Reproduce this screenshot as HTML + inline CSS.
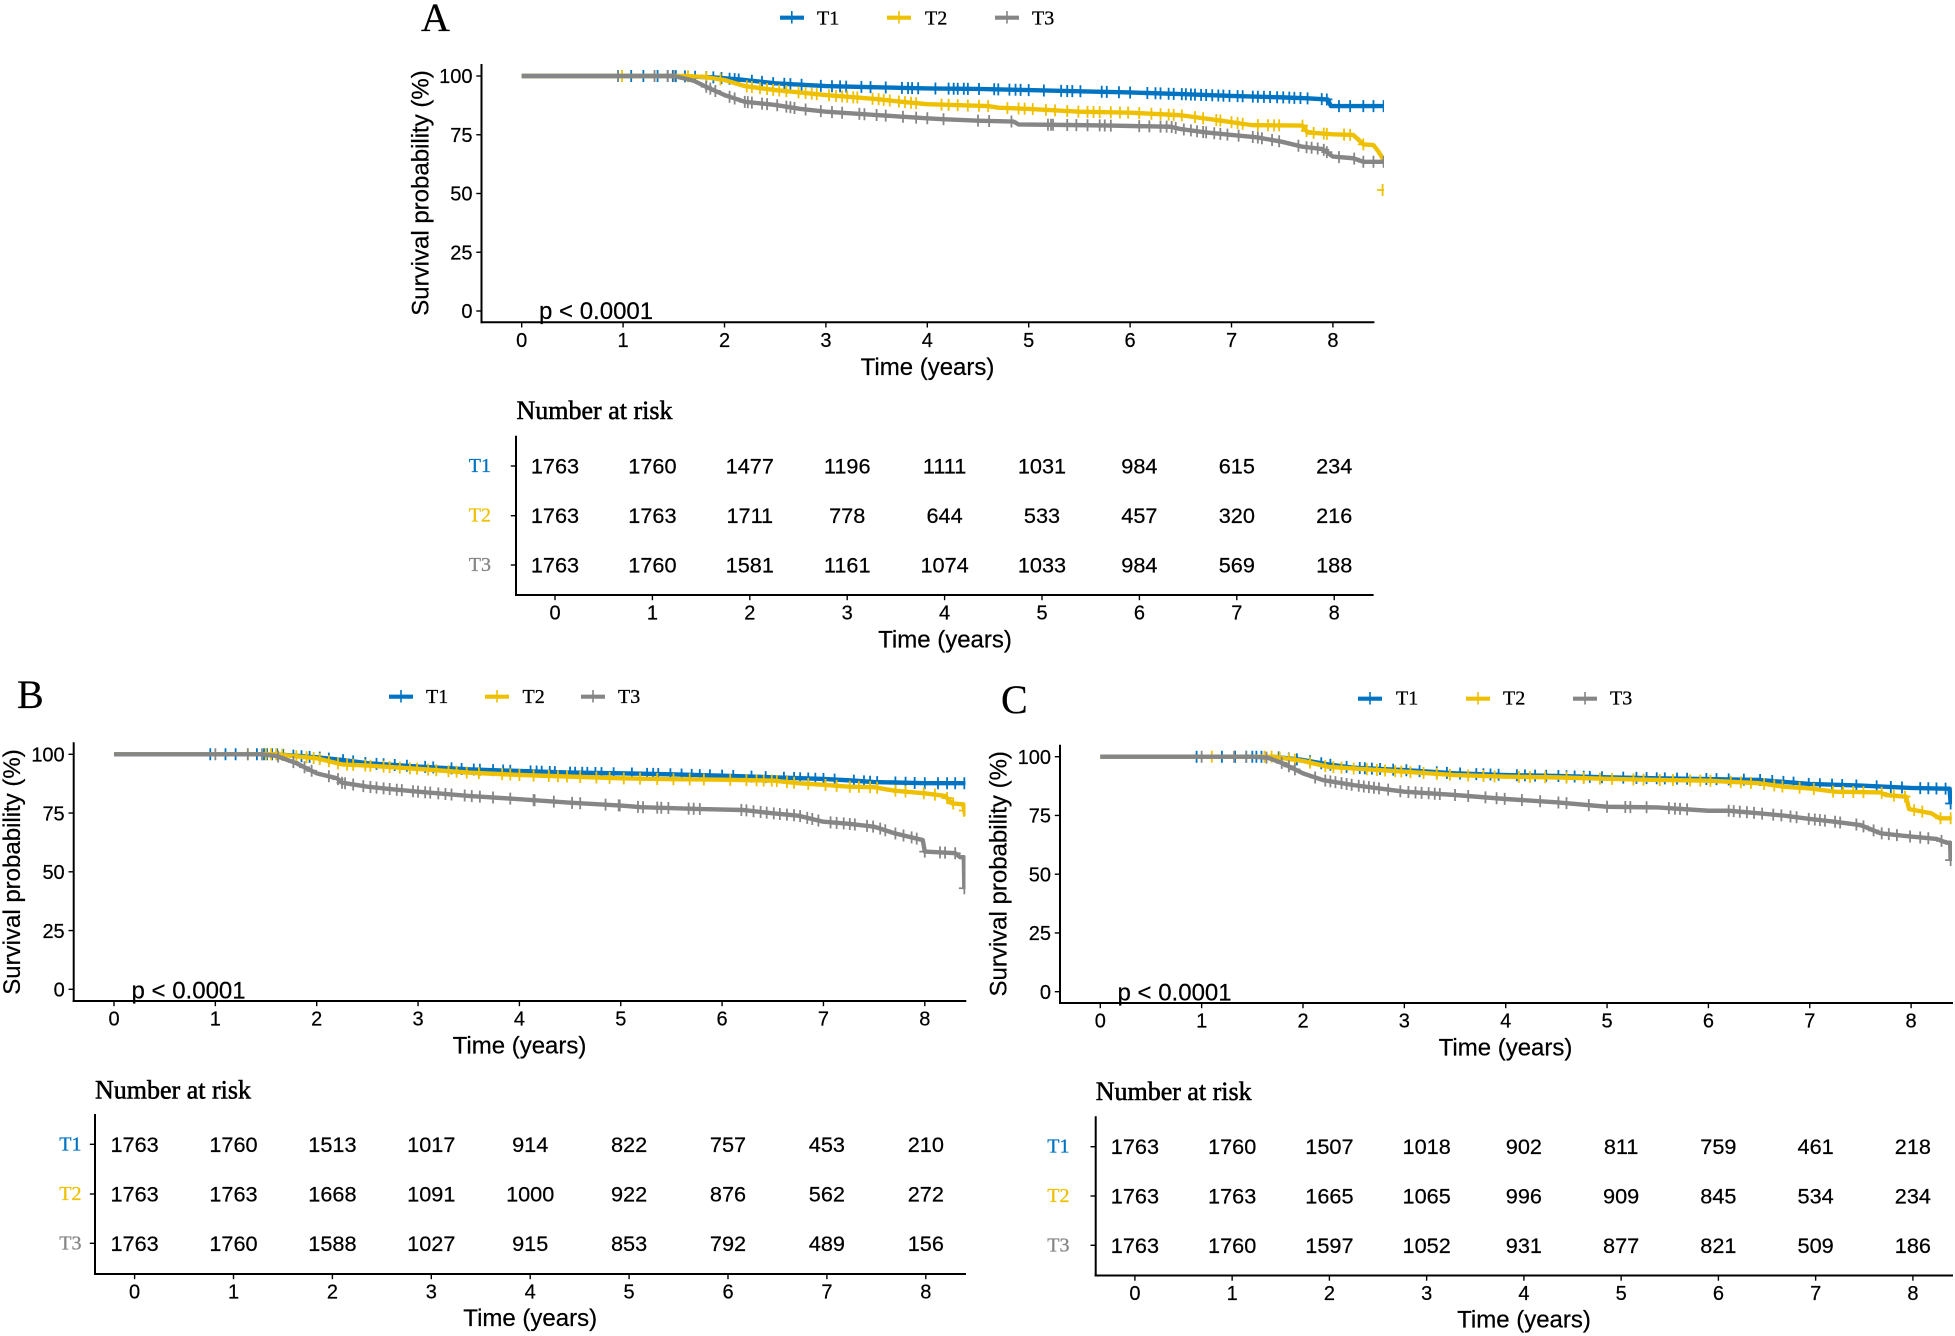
<!DOCTYPE html>
<html lang="en">
<head>
<meta charset="utf-8">
<title>Kaplan-Meier survival curves</title>
<style>
html,body{margin:0;padding:0;background:#fff;}
svg{display:block;}
text{font-family:"Liberation Sans",sans-serif;fill:#000;stroke:#000;stroke-width:.22px;}
.letter{font-family:"Liberation Serif",serif;font-size:40px;}
.risk-title{font-family:"Liberation Serif",serif;font-size:26px;stroke-width:.55px;}
.legend-text{font-family:"Liberation Serif",serif;font-size:20px;stroke-width:.3px;}
.row-label{font-family:"Liberation Serif",serif;font-size:20px;text-anchor:end;stroke-width:.3px;}
.axis-title{font-size:24px;}
.p-text{font-size:24px;}
</style>
</head>
<body>
<svg id="figure" xmlns="http://www.w3.org/2000/svg" width="1955" height="1336" viewBox="0 0 1955 1336">
  <rect x="0" y="0" width="1955" height="1336" fill="#fff"/>
  <defs>
    <clipPath id="clip-a"><rect x="400" y="40" width="984" height="300"/></clipPath>
    <clipPath id="clip-b"><rect x="0" y="720" width="965.5" height="300"/></clipPath>
    <clipPath id="clip-c"><rect x="1000" y="720" width="952" height="300"/></clipPath>
  </defs>

  <!-- Panel letters -->
  <text class="letter" x="421" y="31">A</text>
  <text class="letter" x="17" y="708">B</text>
  <text class="letter" x="1001" y="713">C</text>

  <!-- Legend A -->
  <g>
    <g>
      <path d="M780 17.7H804" stroke="#0073C2" stroke-width="4.2"/><path d="M791.8 11V23.5" stroke="#0073C2" stroke-width="1.6"/>
      <text class="legend-text" x="817" y="24.3">T1</text>
    </g>
    <g>
      <path d="M887 17.7H911" stroke="#EFC000" stroke-width="4.2"/><path d="M899 11V23.5" stroke="#EFC000" stroke-width="1.6"/>
      <text class="legend-text" x="925" y="24.3">T2</text>
    </g>
    <g>
      <path d="M995 17.7H1019" stroke="#868686" stroke-width="4.2"/><path d="M1007 11V23.5" stroke="#868686" stroke-width="1.6"/>
      <text class="legend-text" x="1032" y="24.3">T3</text>
    </g>
  </g>
  <!-- Legend B -->
  <g>
    <g>
      <path d="M389 696.7H413" stroke="#0073C2" stroke-width="4.2"/><path d="M401 690V702.5" stroke="#0073C2" stroke-width="1.6"/>
      <text class="legend-text" x="426" y="702.8">T1</text>
    </g>
    <g>
      <path d="M485 696.7H509" stroke="#EFC000" stroke-width="4.2"/><path d="M497 690V702.5" stroke="#EFC000" stroke-width="1.6"/>
      <text class="legend-text" x="522.5" y="702.8">T2</text>
    </g>
    <g>
      <path d="M581 696.7H605" stroke="#868686" stroke-width="4.2"/><path d="M593 690V702.5" stroke="#868686" stroke-width="1.6"/>
      <text class="legend-text" x="618" y="702.8">T3</text>
    </g>
  </g>
  <!-- Legend C -->
  <g>
    <g>
      <path d="M1358 698.7H1382" stroke="#0073C2" stroke-width="4.2"/><path d="M1370 692V704.5" stroke="#0073C2" stroke-width="1.6"/>
      <text class="legend-text" x="1396" y="704.5">T1</text>
    </g>
    <g>
      <path d="M1466 698.7H1490" stroke="#EFC000" stroke-width="4.2"/><path d="M1478 692V704.5" stroke="#EFC000" stroke-width="1.6"/>
      <text class="legend-text" x="1503" y="704.5">T2</text>
    </g>
    <g>
      <path d="M1573 698.7H1597" stroke="#868686" stroke-width="4.2"/><path d="M1585 692V704.5" stroke="#868686" stroke-width="1.6"/>
      <text class="legend-text" x="1610" y="704.5">T3</text>
    </g>
  </g>

  <!-- Axis titles and annotations -->
  <text class="axis-title" text-anchor="middle" transform="translate(428.7 193) rotate(-90)">Survival probability (%)</text>
  <text class="axis-title" text-anchor="middle" transform="translate(20 872) rotate(-90)">Survival probability (%)</text>
  <text class="axis-title" text-anchor="middle" transform="translate(1006.7 873.8) rotate(-90)">Survival probability (%)</text>
  <text class="axis-title" text-anchor="middle" x="927.5" y="375">Time (years)</text>
  <text class="axis-title" text-anchor="middle" x="519.5" y="1053.5">Time (years)</text>
  <text class="axis-title" text-anchor="middle" x="1505.5" y="1055.5">Time (years)</text>
  <text class="p-text" x="539" y="319">p &lt; 0.0001</text>
  <text class="p-text" x="131.5" y="998.5">p &lt; 0.0001</text>
  <text class="p-text" x="1117.5" y="1000.5">p &lt; 0.0001</text>

  <!-- Risk tables: static titles -->
  <text class="risk-title" x="516.5" y="419">Number at risk</text>
  <text class="risk-title" x="95" y="1098.5">Number at risk</text>
  <text class="risk-title" x="1095.7" y="1099.8">Number at risk</text>
  <text class="axis-title" text-anchor="middle" x="945" y="647.7">Time (years)</text>
  <text class="axis-title" text-anchor="middle" x="530.2" y="1326.2">Time (years)</text>
  <text class="axis-title" text-anchor="middle" x="1524" y="1327.5">Time (years)</text>

  <text class="row-label" style="fill:#0073C2;stroke:#0073C2" x="491" y="472">T1</text>
  <text class="row-label" style="fill:#EFC000;stroke:#EFC000" x="491" y="521.7">T2</text>
  <text class="row-label" style="fill:#868686;stroke:#868686" x="491" y="571">T3</text>
  <text class="row-label" style="fill:#0073C2;stroke:#0073C2" x="81.5" y="1150.3">T1</text>
  <text class="row-label" style="fill:#EFC000;stroke:#EFC000" x="81.5" y="1200">T2</text>
  <text class="row-label" style="fill:#868686;stroke:#868686" x="81.5" y="1249.3">T3</text>
  <text class="row-label" style="fill:#0073C2;stroke:#0073C2" x="1069.5" y="1152.7">T1</text>
  <text class="row-label" style="fill:#EFC000;stroke:#EFC000" x="1069.5" y="1202">T2</text>
  <text class="row-label" style="fill:#868686;stroke:#868686" x="1069.5" y="1251.3">T3</text>
</svg>

<script>
/* ---------- shared tick labels ---------- */
const survivalTicks = [0, 25, 50, 75, 100];
const yearTicks = [0, 1, 2, 3, 4, 5, 6, 7, 8];

/* ---------- Panel A survival curves (years / percent) ---------- */
const aT1Times = [0, 1.5, 1.9, 2.2, 2.5, 3, 3.5, 4, 4.5, 5, 5.5, 6, 6.5, 7, 7.5, 7.75, 7.95, 7.98, 8.5];
const aT1Surv = [100, 100, 99.4, 98.3, 96.9, 95.7, 95.2, 94.7, 94.5, 94, 93.5, 93, 92.3, 91.5, 90.9, 90.5, 90, 87.2, 87.2];
const aT1Censor = [0.95,1.08,1.2,1.34,1.44,1.49,1.52,1.61,1.71,1.82,1.89,1.97,2.05,2.1,2.14,2.27,2.37,2.48,2.59,2.65,2.76,2.95,3.06,3.14,3.2,3.35,3.44,3.59,3.75,3.81,3.85,3.91,4.08,4.21,4.26,4.3,4.36,4.4,4.51,4.66,4.7,4.81,4.87,4.92,5,5.15,5.32,5.38,5.43,5.51,5.72,5.77,5.89,6,6.17,6.25,6.3,6.38,6.43,6.51,6.55,6.6,6.64,6.7,6.75,6.81,6.87,6.92,6.98,7.06,7.11,7.21,7.26,7.32,7.38,7.45,7.51,7.57,7.62,7.68,7.75,7.89,7.94,8.06,8.17,8.3,8.4,8.5];
const aT2Times = [0, 1.6, 1.8, 2, 2.2, 2.5, 3, 3.5, 3.75, 4, 4.6, 4.7, 5, 5.5, 6, 6.5, 6.9, 7.2, 7.7, 7.75, 8, 8.2, 8.25, 8.3, 8.4, 8.45, 8.5];
const aT2Surv = [100, 100, 99.6, 98.3, 95.7, 94, 91.9, 90.2, 89, 88, 87.2, 86.5, 86, 84.8, 84.4, 83.3, 81, 79.1, 78.9, 76, 75.2, 74.9, 73, 70.9, 70.6, 67.8, 64.3];
const aT2Censor = [0.99,1.64,1.82,1.96,2.22,2.27,2.35,2.42,2.48,2.54,2.61,2.73,2.8,2.86,2.91,3.03,3.1,3.16,3.21,3.27,3.31,3.46,3.52,3.57,3.63,3.72,3.78,3.84,3.89,4.14,4.21,4.3,4.4,4.51,4.6,4.79,4.9,4.96,5.04,5.17,5.26,5.38,5.49,5.58,5.64,5.7,5.81,5.9,5.98,6.09,6.21,6.3,6.38,6.43,6.51,6.64,6.72,6.85,6.89,7,7.06,7.11,7.26,7.36,7.42,7.47,7.7,7.74,7.81,7.91,7.94,8.11,8.17,8.3];
const aT2OutlierTimes = [8.49];
const aT2OutlierSurv = [51.5];
const aT3Times = [0, 1.5, 1.6, 1.7, 1.85, 2, 2.2, 2.5, 2.75, 3, 3.5, 3.75, 4, 4.15, 4.5, 4.85, 4.9, 5.5, 5.8, 6.4, 6.5, 6.75, 7, 7.25, 7.5, 7.7, 7.9, 8, 8.2, 8.3, 8.5];
const aT3Surv = [100, 100, 99, 97.9, 94.8, 91.9, 89, 87.7, 86, 84.8, 83.4, 82.7, 82, 81.6, 81, 80.6, 79.4, 79.1, 78.9, 78.4, 77.4, 76, 74.9, 73.9, 72, 69.9, 68.9, 65.7, 65, 63.5, 63.5];
const aT3Censor = [0.95,1.31,1.44,1.5,1.82,1.86,1.91,2.05,2.1,2.2,2.23,2.27,2.37,2.42,2.52,2.61,2.65,2.69,2.8,2.95,3.06,3.16,3.33,3.38,3.5,3.59,3.76,3.89,4,4.16,4.5,4.61,4.83,5.19,5.22,5.24,5.38,5.47,5.58,5.7,5.75,5.81,6.09,6.19,6.3,6.36,6.41,6.45,6.53,6.6,6.66,6.72,6.75,6.83,6.89,6.96,7.07,7.21,7.26,7.3,7.4,7.47,7.66,7.74,7.79,7.85,7.91,7.94,8.06,8.21,8.3,8.4,8.5];

/* ---------- Panel B survival curves ---------- */
const bT1Times = [0, 1.6, 2, 2.25, 2.5, 3, 3.5, 3.7, 4, 4.5, 5, 5.5, 6, 6.5, 7, 7.3, 7.5, 8, 8.4];
const bT1Surv = [100, 100, 98.7, 97.6, 96.2, 94.8, 93.6, 93.3, 92.9, 92.2, 91.9, 91.5, 90.9, 90.2, 89.5, 88.8, 88.2, 87.7, 87.7];
const bT1Censor = [0.95,1.1,1.2,1.41,1.48,1.51,1.56,1.61,1.67,1.77,1.85,1.93,2.03,2.12,2.26,2.36,2.48,2.59,2.66,2.77,2.89,3.07,3.15,3.33,3.43,3.55,3.61,3.74,3.84,3.91,4.11,4.17,4.22,4.3,4.35,4.5,4.55,4.62,4.67,4.75,4.81,4.93,5.11,5.26,5.32,5.37,5.49,5.6,5.7,5.78,5.88,6,6.11,6.29,6.43,6.61,6.71,6.77,6.85,6.92,7,7.11,7.3,7.4,7.46,7.53,7.71,7.81,7.9,8,8.13,8.22,8.3,8.39];
const bT2Times = [0, 1.6, 2, 2.25, 2.5, 3, 3.5, 4, 4.5, 5, 5.5, 6, 6.5, 6.75, 7, 7.25, 7.5, 7.7, 8, 8.2, 8.27, 8.38, 8.4];
const bT2Surv = [100, 100, 98.3, 95.7, 95.2, 93.8, 92.2, 91.2, 90.5, 89.8, 89.4, 89.2, 88.8, 87.7, 87, 86.2, 86, 84.5, 83.4, 82.3, 79.1, 78.7, 73.5];
const bT2Censor = [1.32,1.5,1.55,1.6,1.66,1.8,1.9,1.97,2.03,2.12,2.21,2.3,2.36,2.48,2.53,2.66,2.72,2.82,2.92,2.99,3.1,3.18,3.3,3.38,3.48,3.6,3.83,3.91,4,4.14,4.29,4.38,4.47,4.6,4.76,4.89,5.03,5.19,5.36,5.52,5.68,5.82,6.08,6.24,6.34,6.41,6.49,6.54,6.64,6.71,6.85,7.02,7.13,7.26,7.35,7.46,7.53,7.71,7.81,7.99,8.1,8.22,8.28,8.39];
const bT3Times = [0, 1.45, 1.6, 1.8, 2, 2.2, 2.25, 2.5, 2.75, 3, 3.5, 4, 4.5, 5, 5.2, 5.8, 6.2, 6.5, 6.75, 7, 7.25, 7.5, 7.7, 7.98, 8, 8.3, 8.35, 8.385, 8.39];
const bT3Surv = [100, 100, 99.3, 96.2, 91.9, 89.8, 87.9, 86.2, 85.1, 84.1, 82.3, 80.9, 79.4, 78.2, 77.5, 76.7, 76.3, 74.9, 73.9, 71.3, 70.4, 69.2, 66.4, 63.5, 58.6, 57.9, 56.2, 56.2, 43];
const bT3Censor = [1,1.32,1.46,1.62,1.77,1.88,1.95,2.12,2.21,2.25,2.28,2.36,2.46,2.53,2.59,2.66,2.72,2.79,2.84,2.95,3,3.07,3.12,3.2,3.27,3.33,3.46,3.53,3.61,3.74,3.91,4.14,4.15,4.34,4.52,4.6,4.85,4.98,4.99,5.17,5.22,5.36,5.4,5.47,5.67,5.72,5.78,6.19,6.24,6.31,6.38,6.44,6.51,6.57,6.64,6.71,6.77,6.84,6.89,6.95,7.07,7.13,7.2,7.26,7.31,7.43,7.49,7.56,7.61,7.71,7.79,7.87,7.92,8,8.15,8.2,8.3,8.39];

/* ---------- Panel C survival curves ---------- */
const cT1Times = [0, 1.7, 2, 2.25, 2.5, 3, 3.5, 4, 4.5, 5, 5.5, 6, 6.5, 7, 7.5, 8, 8.35, 8.38, 8.39];
const cT1Surv = [100, 100, 98.6, 96.7, 95.3, 94.3, 92.9, 92.2, 91.8, 91.2, 90.8, 90.5, 90.1, 88.4, 87.7, 86.7, 86.4, 86.4, 80.1];
const cT1Censor = [0.95,1.2,1.33,1.44,1.5,1.54,1.59,1.76,1.86,1.94,2.07,2.18,2.27,2.43,2.56,2.61,2.68,2.76,2.89,3.02,3.15,3.32,3.42,3.55,3.71,3.78,3.85,3.93,4.11,4.19,4.29,4.4,4.52,4.6,4.68,4.77,4.83,4.95,5.16,5.29,5.39,5.49,5.57,5.69,5.79,5.98,6.08,6.2,6.35,6.51,6.63,6.74,6.84,6.99,7.1,7.22,7.32,7.46,7.66,7.8,7.91,8.09,8.17,8.25,8.34,8.39];
const cT2Times = [0, 1.7, 2, 2.25, 2.5, 3, 3.5, 4, 4.5, 5, 5.5, 6, 6.5, 6.75, 7, 7.25, 7.7, 7.75, 7.95, 7.98, 8.2, 8.28, 8.4];
const cT2Surv = [100, 100, 98.2, 95.7, 95, 93.6, 92.2, 91.5, 91.2, 90.6, 90.1, 89.8, 88.7, 87.2, 86.5, 85.1, 84.8, 83.7, 83, 77.7, 75.9, 73.8, 73.8];
const cT2Censor = [1.1,1.62,1.69,1.77,1.86,1.92,2.07,2.22,2.3,2.38,2.5,2.63,2.73,2.81,2.91,2.97,3.06,3.19,3.32,3.45,3.63,3.78,3.89,4.13,4.24,4.39,4.6,4.77,4.93,5.05,5.26,5.36,5.52,5.65,5.82,5.92,6.02,6.22,6.32,6.42,6.55,6.65,6.73,6.9,7.04,7.23,7.33,7.43,7.53,7.71,7.83,7.94,8.03,8.11,8.29,8.39];
const cT3Times = [0, 1.5, 1.65, 1.8, 2, 2.2, 2.5, 3, 3.5, 4, 4.5, 5, 5.5, 6, 6.2, 6.5, 6.75, 7, 7.25, 7.5, 7.7, 8, 8.25, 8.35, 8.385, 8.39];
const cT3Surv = [100, 100, 99.6, 97.2, 92.9, 90, 87.9, 85.1, 83.7, 82, 80.6, 78.7, 78.4, 77, 77, 75.9, 74.9, 73.5, 72.3, 70.9, 67.4, 66, 65, 63.4, 63.4, 56];
const cT3Censor = [1,1.32,1.44,1.64,1.79,1.86,1.92,2.12,2.22,2.27,2.32,2.38,2.43,2.48,2.55,2.6,2.65,2.7,2.75,2.84,2.96,3.04,3.11,3.17,3.24,3.3,3.35,3.5,3.63,3.8,3.91,3.99,4.16,4.34,4.52,4.6,4.82,5,5.18,5.23,5.39,5.61,5.67,5.72,5.79,6.2,6.25,6.31,6.38,6.45,6.53,6.64,6.72,6.81,6.87,6.99,7.05,7.1,7.15,7.25,7.3,7.46,7.53,7.63,7.71,7.78,7.86,7.99,8.09,8.17,8.3,8.39];

/* ---------- Numbers at risk ---------- */
const aRiskT1 = [1763, 1760, 1477, 1196, 1111, 1031, 984, 615, 234];
const aRiskT2 = [1763, 1763, 1711, 778, 644, 533, 457, 320, 216];
const aRiskT3 = [1763, 1760, 1581, 1161, 1074, 1033, 984, 569, 188];
const bRiskT1 = [1763, 1760, 1513, 1017, 914, 822, 757, 453, 210];
const bRiskT2 = [1763, 1763, 1668, 1091, 1000, 922, 876, 562, 272];
const bRiskT3 = [1763, 1760, 1588, 1027, 915, 853, 792, 489, 156];
const cRiskT1 = [1763, 1760, 1507, 1018, 902, 811, 759, 461, 218];
const cRiskT2 = [1763, 1763, 1665, 1065, 996, 909, 845, 534, 234];
const cRiskT3 = [1763, 1760, 1597, 1052, 931, 877, 821, 509, 186];

/* ---------- Layout and drawing ---------- */
const NS = 'http://www.w3.org/2000/svg';
const figure = document.getElementById('figure');
const seriesColors = ['#0073C2', '#EFC000', '#868686'];

function create(tag, parent) {
  const el = document.createElementNS(NS, tag);
  parent.appendChild(el);
  return el;
}

function xScale(plot, t) { return plot.x0 + t * plot.pxPerYear; }
function yScale(plot, s) { return plot.y0 - s * plot.pxPerPercent; }

function survivalAt(times, surv, t) {
  if (t <= times[0]) return surv[0];
  for (let i = 1; i < times.length; i++) {
    if (t <= times[i]) {
      const f = (t - times[i - 1]) / (times[i] - times[i - 1] || 1);
      return surv[i - 1] + f * (surv[i] - surv[i - 1]);
    }
  }
  return surv[surv.length - 1];
}

function drawPlusMark(plot, group, color, t, s) {
  const x = xScale(plot, t);
  const y = yScale(plot, s);
  const mark = create('path', group);
  
  
  mark.setAttribute('d', 'M' + (x - 5.5) + ' ' + y + 'H' + (x + 5.5) + 'M' + x + ' ' + (y - 6) + 'V' + (y + 6));
  mark.setAttribute('stroke', color);
  mark.setAttribute('stroke-width', '1.8');
  mark.setAttribute('fill', 'none');
}

function drawSeries(plot, index, times, surv, censor) {
  const color = seriesColors[index];
  const group = create('g', figure);
  
  
  group.setAttribute('clip-path', 'url(#' + plot.clip + ')');
  const line = create('path', group);
  
  
  line.setAttribute('d', times.map(function (t, i) {
    return (i ? 'L' : 'M') + xScale(plot, t).toFixed(2) + ' ' + yScale(plot, surv[i]).toFixed(2);
  }).join(''));
  line.setAttribute('fill', 'none');
  line.setAttribute('stroke', color);
  line.setAttribute('stroke-width', '4.4');
  line.setAttribute('stroke-linejoin', 'round');
  censor.forEach(function (t) {
    drawPlusMark(plot, group, color, t, survivalAt(times, surv, t));
  });
  return group;
}

function drawAxisLine(x1, y1, x2, y2, width) {
  const axis = create('line', figure);
  
  
  axis.setAttribute('x1', x1);
  axis.setAttribute('y1', y1);
  axis.setAttribute('x2', x2);
  axis.setAttribute('y2', y2);
  axis.setAttribute('stroke', '#000');
  axis.setAttribute('stroke-width', width);
  axis.setAttribute('stroke-linecap', 'square');
}

function drawLabel(x, y, str, size, anchor) {
  const label = create('text', figure);
  
  
  label.setAttribute('x', x);
  label.setAttribute('y', y);
  label.setAttribute('font-size', size);
  label.setAttribute('text-anchor', anchor);
  label.textContent = str;
}

function drawPlotAxes(plot) {
  drawAxisLine(plot.axisX, plot.axisTop, plot.axisX, plot.axisY, 2);
  drawAxisLine(plot.axisX, plot.axisY, plot.axisRight, plot.axisY, 2);
  survivalTicks.forEach(function (s) {
    const y = yScale(plot, s);
    drawAxisLine(plot.axisX - 4.5, y, plot.axisX, y, 1.4);
    drawLabel(plot.axisX - 9, y + 7.2, String(s), 20, 'end');
  });
  yearTicks.forEach(function (t) {
    const x = xScale(plot, t);
    drawAxisLine(x, plot.axisY, x, plot.axisY + 4.5, 1.4);
    drawLabel(x, plot.axisY + 24.5, String(t), 20, 'middle');
  });
}

function drawRiskTable(table, rows) {
  drawAxisLine(table.left, table.top, table.left, table.bottom, 2);
  drawAxisLine(table.left, table.bottom, table.right, table.bottom, 2);
  yearTicks.forEach(function (t, i) {
    const x = table.x0 + t * table.step;
    drawAxisLine(x, table.bottom, x, table.bottom + 4.5, 1.4);
    drawLabel(x, table.bottom + 24.5, String(t), 20, 'middle');
    rows.forEach(function (row, r) {
      const cell = create('text', figure);
      
      
      cell.setAttribute('x', x);
      cell.setAttribute('y', table.rowY[r] + 7.5);
      cell.setAttribute('font-size', '21.7');
      cell.setAttribute('text-anchor', 'middle');
      cell.textContent = String(row[i]);
    });
  });
  table.rowY.forEach(function (y) {
    drawAxisLine(table.left - 4.5, y, table.left, y, 1.4);
  });
}

const plotA = { axisX: 481.5, axisY: 322.3, axisTop: 65, axisRight: 1373.4, x0: 521.7, y0: 311, pxPerYear: 101.4, pxPerPercent: 2.35, clip: 'clip-a' };
const plotB = { axisX: 73.7, axisY: 1001, axisTop: 743.3, axisRight: 965.3, x0: 114, y0: 989.3, pxPerYear: 101.35, pxPerPercent: 2.35, clip: 'clip-b' };
const plotC = { axisX: 1060, axisY: 1003, axisTop: 745.7, axisRight: 1952, x0: 1100.3, y0: 991.7, pxPerYear: 101.35, pxPerPercent: 2.35, clip: 'clip-c' };

drawPlotAxes(plotA);
drawPlotAxes(plotB);
drawPlotAxes(plotC);

drawSeries(plotA, 0, aT1Times, aT1Surv, aT1Censor);
const aT2Group = drawSeries(plotA, 1, aT2Times, aT2Surv, aT2Censor);
aT2OutlierTimes.forEach(function (t, i) {
  drawPlusMark(plotA, aT2Group, seriesColors[1], t, aT2OutlierSurv[i]);
});
drawSeries(plotA, 2, aT3Times, aT3Surv, aT3Censor);

drawSeries(plotB, 0, bT1Times, bT1Surv, bT1Censor);
drawSeries(plotB, 1, bT2Times, bT2Surv, bT2Censor);
drawSeries(plotB, 2, bT3Times, bT3Surv, bT3Censor);

drawSeries(plotC, 0, cT1Times, cT1Surv, cT1Censor);
drawSeries(plotC, 1, cT2Times, cT2Surv, cT2Censor);
drawSeries(plotC, 2, cT3Times, cT3Surv, cT3Censor);

drawRiskTable({ left: 516, top: 436.7, bottom: 595, right: 1372.6, x0: 555, step: 97.4, rowY: [466, 515.7, 565] }, [aRiskT1, aRiskT2, aRiskT3]);
drawRiskTable({ left: 95, top: 1115, bottom: 1274, right: 965, x0: 134.6, step: 98.9, rowY: [1144.3, 1194, 1243.3] }, [bRiskT1, bRiskT2, bRiskT3]);
drawRiskTable({ left: 1095.7, top: 1117.3, bottom: 1275.5, right: 1952, x0: 1134.9, step: 97.25, rowY: [1146.7, 1196, 1245.3] }, [cRiskT1, cRiskT2, cRiskT3]);
</script>
</body>
</html>
